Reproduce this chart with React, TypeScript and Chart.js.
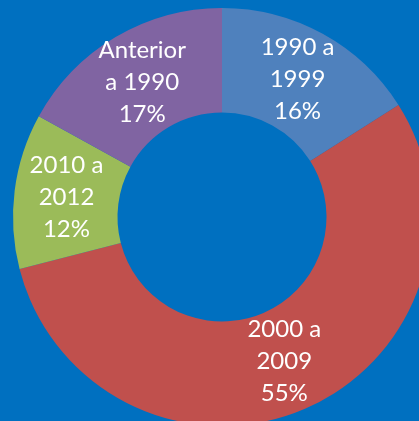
import React, { useEffect, useRef } from "react";
import { Chart, registerables } from "chart.js";

Chart.register(...registerables);

const categories: string[][] = [
  ["1990 a", "1999"],
  ["2000 a", "2009"],
  ["2010 a", "2012"],
  ["Anterior", "a 1990"],
];
const values: number[] = [16, 55, 12, 17];
const colors: string[] = ["#4F81BD", "#C0504D", "#9BBB59", "#8064A2"];
const BG = "#0070C0";

const labelPlugin = {
  id: "sliceLabels",
  afterDatasetsDraw(chart: any) {
    const ctx = chart.ctx;
    const meta = chart.getDatasetMeta(0);
    const data = chart.data.datasets[0].data as number[];
    const total = data.reduce((a, b) => a + b, 0);
    ctx.save();
    ctx.fillStyle = "#FFFFFF";
    ctx.font = "24px Lato";
    ctx.textAlign = "center";
    ctx.textBaseline = "middle";
    const lh = 32;
    meta.data.forEach((arc: any, i: number) => {
      const p = arc.tooltipPosition();
      const pct = Math.round((data[i] / total) * 100) + "%";
      const lines = [...categories[i], pct];
      const y0 = p.y - ((lines.length - 1) * lh) / 2;
      lines.forEach((t, k) => ctx.fillText(t, p.x, y0 + k * lh));
    });
    ctx.restore();
  },
};

export default function App() {
  const ref = useRef<HTMLCanvasElement | null>(null);
  useEffect(() => {
    document.body.style.margin = "0";
    document.body.style.background = BG;
    const chart = new Chart(ref.current as HTMLCanvasElement, {
      type: "doughnut",
      data: {
        labels: categories.map((c) => c.join(" ")),
        datasets: [
          {
            data: values,
            backgroundColor: colors,
            borderWidth: 0,
          },
        ],
      },
      options: {
        animation: false,
        responsive: false,
        cutout: "50%",
        rotation: 0,
        layout: { padding: { left: 13, top: 8, right: 13, bottom: 8 } },
        plugins: {
          legend: { display: false },
          tooltip: { enabled: false },
        },
      },
      plugins: [labelPlugin],
    });
    return () => chart.destroy();
  }, []);
  return (
    <div
      style={{
        position: "fixed",
        left: 0,
        top: 0,
        width: 419,
        height: 421,
        overflow: "hidden",
        background: BG,
      }}
    >
      <canvas ref={ref} width={444} height={434} style={{ display: "block" }} />
    </div>
  );
}
